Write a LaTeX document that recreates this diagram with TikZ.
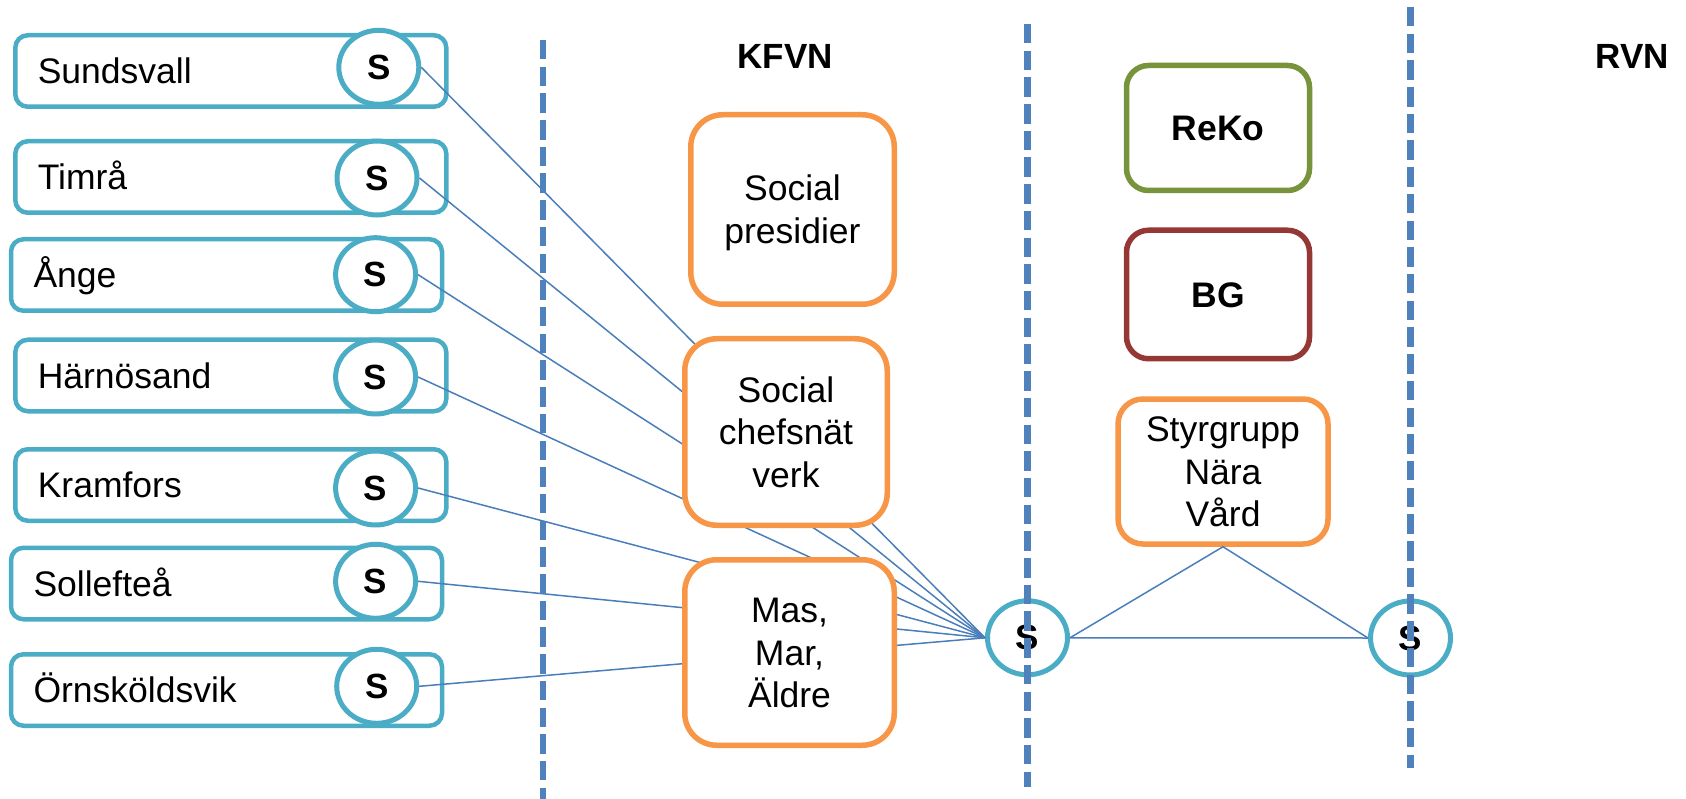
\documentclass[tikz,border=0pt]{standalone}
\usepackage{fontspec}
\setmainfont{Liberation Sans}
\usetikzlibrary{shapes.geometric}
\definecolor{mteal}{HTML}{4BACC6}
\definecolor{dblue}{HTML}{4F81BD}
\definecolor{lblue}{HTML}{4A7EBB}
\definecolor{morange}{HTML}{F79646}
\definecolor{mgreen}{HTML}{77933C}
\definecolor{mred}{HTML}{953735}
\newcommand\capstrut{\rule[-8.7pt]{0pt}{42.5pt}}
\newcommand\txtsize{\fontsize{35.5}{42.5}\selectfont}
\newcommand\ssize{\fontsize{35}{42}\selectfont}
\begin{document}
\begin{tikzpicture}[x=1pt,y=-1pt,
  muni/.style={draw=mteal, line width=4.5pt, fill=white, rounded corners=12.5pt,
    minimum width=431pt, minimum height=71.5pt, inner xsep=22.5pt, inner ysep=0pt,
    text width=386pt, align=left, font=\txtsize},
  sbub/.style={ellipse, draw=mteal, line width=5pt, fill=white, minimum width=80pt,
    minimum height=74pt, inner sep=0pt, font=\ssize\bfseries},
  rbox/.style={draw=#1, line width=5.5pt, fill=white, inner sep=0pt, align=center, font=\txtsize},
  link/.style={draw=lblue, line width=1.5pt},
  divider/.style={draw=dblue, line width=6.5pt, dash pattern=on 19.5pt off 7.2pt},
  head/.style={font=\fontsize{35}{42}\selectfont\bfseries, inner sep=0pt}
]
\useasboundingbox (0,0) rectangle (1686,799);

% municipality boxes
\node[muni] (sundsvall) at (230.8,71)  {\capstrut Sundsvall};
\node[muni] (timra)     at (230.8,177) {\capstrut Timrå};
\node[muni] (ange)      at (226.5,275) {\capstrut Ånge};
\node[muni] (harnosand) at (230.8,375.5) {\capstrut Härnösand};
\node[muni] (kramfors)  at (230.8,485) {\capstrut Kramfors};
\node[muni] (solleftea) at (226.5,583.5) {\capstrut Sollefteå};
\node[muni] (ovik)      at (226.5,690) {\capstrut Örnsköldsvik};

% S bubbles
\node[sbub] (s1) at (378.8,67.3) {S};
\node[sbub] (s2) at (377,178) {S};
\node[sbub] (s3) at (375.6,274.7) {S};
\node[sbub] (s4) at (375.6,377) {S};
\node[sbub] (s5) at (375.6,488) {S};
\node[sbub] (s6) at (375.6,581.3) {S};
\node[sbub] (s7) at (376.7,686.3) {S};
\node[sbub] (sc) at (1027.5,637.8) {S};
\node[sbub] (sr) at (1410.5,638) {S};

% connectors to central S
\foreach \m in {s1,s2,s3,s4,s5,s6,s7}
  \draw[link] (\m.east) -- (sc.west);

% KFVN boxes
\node[rbox=morange, rounded corners=32pt, minimum width=203.5pt, minimum height=189.5pt]
  (pres) at (792.5,209.5) {\capstrut Social\\\capstrut presidier};
\node[rbox=morange, rounded corners=32pt, minimum width=202.5pt, minimum height=186.5pt]
  (chef) at (786,432) {\capstrut Social\\\capstrut chefsnät\\\capstrut verk};
\node[rbox=morange, rounded corners=32pt, minimum width=209.5pt, minimum height=185.5pt]
  (mas) at (789.5,652.5) {\capstrut Mas,\\\capstrut Mar,\\\capstrut Äldre};

% right column boxes
\node[rbox=mgreen, rounded corners=22pt, minimum width=183pt, minimum height=125pt,
  font=\txtsize\bfseries] (reko) at (1218,128) {\capstrut ReKo};
\node[rbox=mred, rounded corners=22pt, minimum width=183pt, minimum height=128.5pt,
  font=\txtsize\bfseries] (bg) at (1218,294.5) {\capstrut BG};
\node[rbox=morange, rounded corners=25pt, minimum width=210pt, minimum height=145pt]
  (styr) at (1223,471.5) {\capstrut Styrgrupp\\\capstrut Nära\\\capstrut Vård};

% right connectors
\draw[link] (sc.east) -- (sr.west);
\draw[link] (sc.east) -- (styr.south) -- (sr.west);

% headings
\node[head] (kfvn) at (785,56) {KFVN};
\node[head] (rvn) at (1632,56) {RVN};

% dashed dividers
\coordinate (d1t) at (543,40);
\coordinate (d1b) at (543,799);
\coordinate (d2t) at (1027.5,24);
\coordinate (d2b) at (1027.5,787);
\coordinate (d3t) at (1410.5,7);
\coordinate (d3b) at (1410.5,768);
\draw[divider] (d1t) -- (d1b);
\draw[divider] (d2t) -- (d2b);
\draw[divider] (d3t) -- (d3b);
\end{tikzpicture}
\end{document}
